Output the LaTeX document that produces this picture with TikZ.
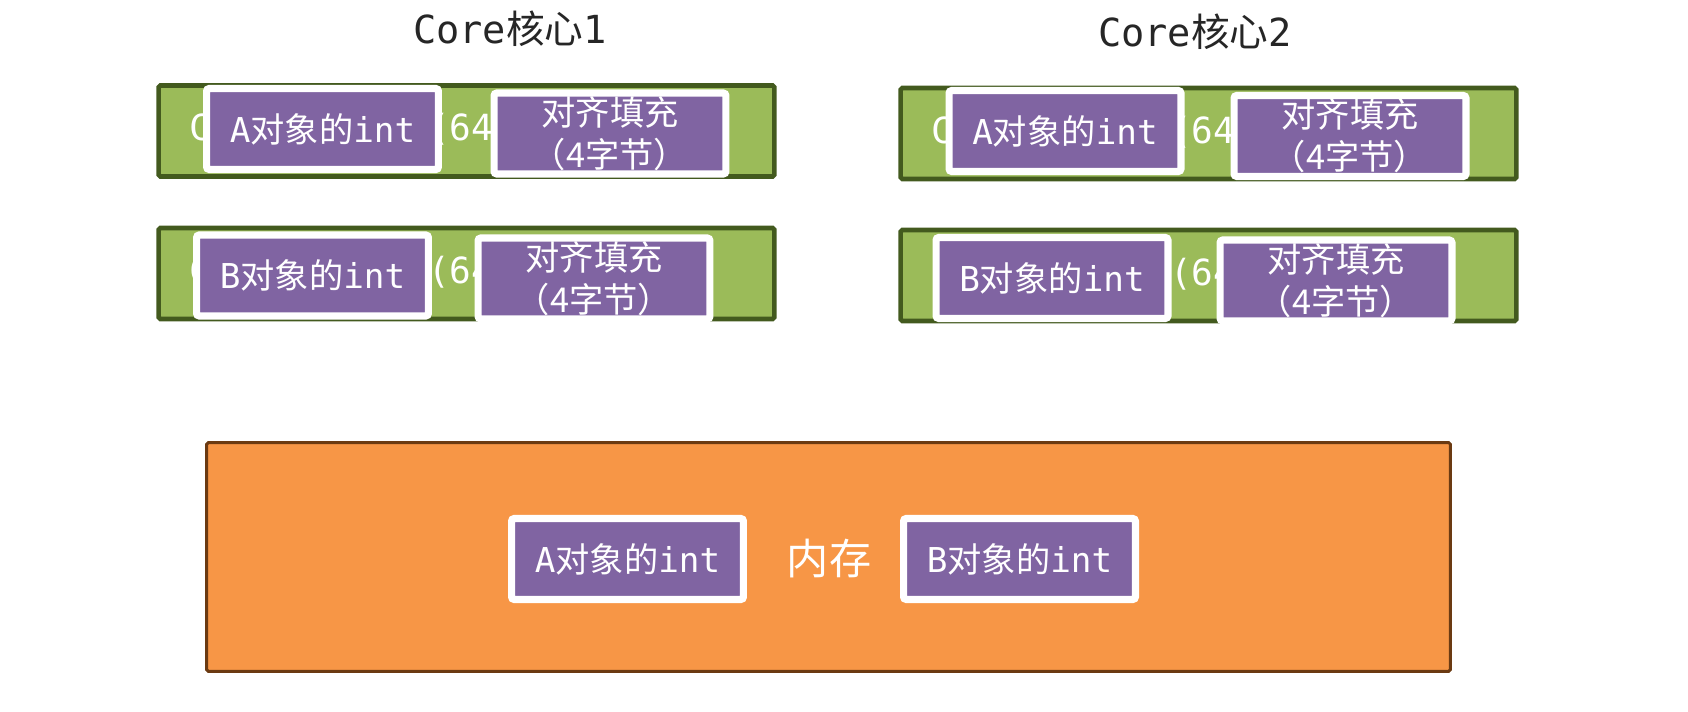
\documentclass[tikz,border=0pt]{standalone}
\usepackage{fontspec}
\setmainfont{DejaVu Sans Mono}
\newfontfamily\cjk{Noto Sans CJK SC}
\usetikzlibrary{positioning, shadows}
\newcommand{\zh}[1]{{\cjk #1}}
\definecolor{linegreen}{HTML}{9BBB59}
\definecolor{linedark}{HTML}{435A1E}
\definecolor{objpurple}{HTML}{8064A2}
\definecolor{memorange}{HTML}{F79646}
\definecolor{membrown}{HTML}{6B3A12}
\definecolor{titlegray}{HTML}{262626}
\tikzset{
	titletext/.style={font=\fontsize{22}{26}\selectfont, text=titlegray}
}
\tikzset{
	boxtext/.style={font=\fontsize{19.5}{24}\selectfont, text=white}
}

\begin{document}
\begin{tikzpicture}[x=0.02cm, y=-0.02cm]

      \tikzset{
        linebar/.style={
            shape=rectangle,
            rounded corners=1pt,
            draw=linedark,
            line width=2.6pt,
            fill=linegreen,
            minimum width=12.32cm,
            minimum height=1.82cm
          },
        hiddentext/.style={
            font=\fontsize{20.5}{24}\selectfont,
            text=white,
            anchor=west,
            inner sep=0pt
          },
        varbox/.style={
            shape=rectangle,
            boxtext,
            rounded corners=1.5pt,
            draw=white,
            line width=4pt,
            fill=objpurple,
            align=center,
            minimum width=4.64cm,
            minimum height=1.62cm,
            inner sep=0pt,
            drop shadow={shadow xshift=0.6pt, shadow yshift=-1.6pt, opacity=0.3}
          }
      }

      \useasboundingbox (0,0) rectangle (1688,712);

      % core 1
      \node[titletext] (core1) at (510,29) {Core\zh{核心}1};
      \node[linebar] (lineA1) at (466.5,131) {};
      \node[hiddentext] (hideA1) at ([xshift=0.66cm]lineA1.west) {Cache Line (64 bytes)};
      \node[varbox] (objA1) at (322.5,129) {A\zh{对象的}int};
      \node[varbox] (padA1) at (610,133.5) {\zh{对齐填充}\\\zh{（4字节）}};

      \node[linebar] (lineB1) at (466.5,273.5) {};
      \node[hiddentext] (hideB1) at ([xshift=0.66cm]lineB1.west) {Cache Line (64 bytes)};
      \node[varbox] (objB1) at (312.5,275.5) {B\zh{对象的}int};
      \node[varbox] (padB1) at (594,278.5) {\zh{对齐填充}\\\zh{（4字节）}};

      % core 2
      \node[titletext] (core2) at (1195,32) {Core\zh{核心}2};
      \node[linebar] (lineA2) at (1208.5,133.5) {};
      \node[hiddentext] (hideA2) at ([xshift=0.66cm]lineA2.west) {Cache Line (64 bytes)};
      \node[varbox] (objA2) at (1065,131) {A\zh{对象的}int};
      \node[varbox] (padA2) at (1350,136) {\zh{对齐填充}\\\zh{（4字节）}};

      \node[linebar] (lineB2) at (1208.5,275.5) {};
      \node[hiddentext] (hideB2) at ([xshift=0.66cm]lineB2.west) {Cache Line (64 bytes)};
      \node[varbox] (objB2) at (1052,278) {B\zh{对象的}int};
      \node[varbox] (padB2) at (1336,280.5) {\zh{对齐填充}\\\zh{（4字节）}};

      % memory
      \node[draw=membrown, line width=1.7pt, fill=memorange, rounded corners=1pt,
            minimum width=24.88cm, minimum height=4.58cm] (mem) at (828.5,557) {};
      \node[font=\fontsize{24}{28}\selectfont, text=white] (memlabel) at (829,559) {\zh{内存}};
      \node[varbox] (memA) at (627.5,559) {A\zh{对象的}int};
      \node[varbox] (memB) at (1019.5,559) {B\zh{对象的}int};
    \end{tikzpicture}
\end{document}
